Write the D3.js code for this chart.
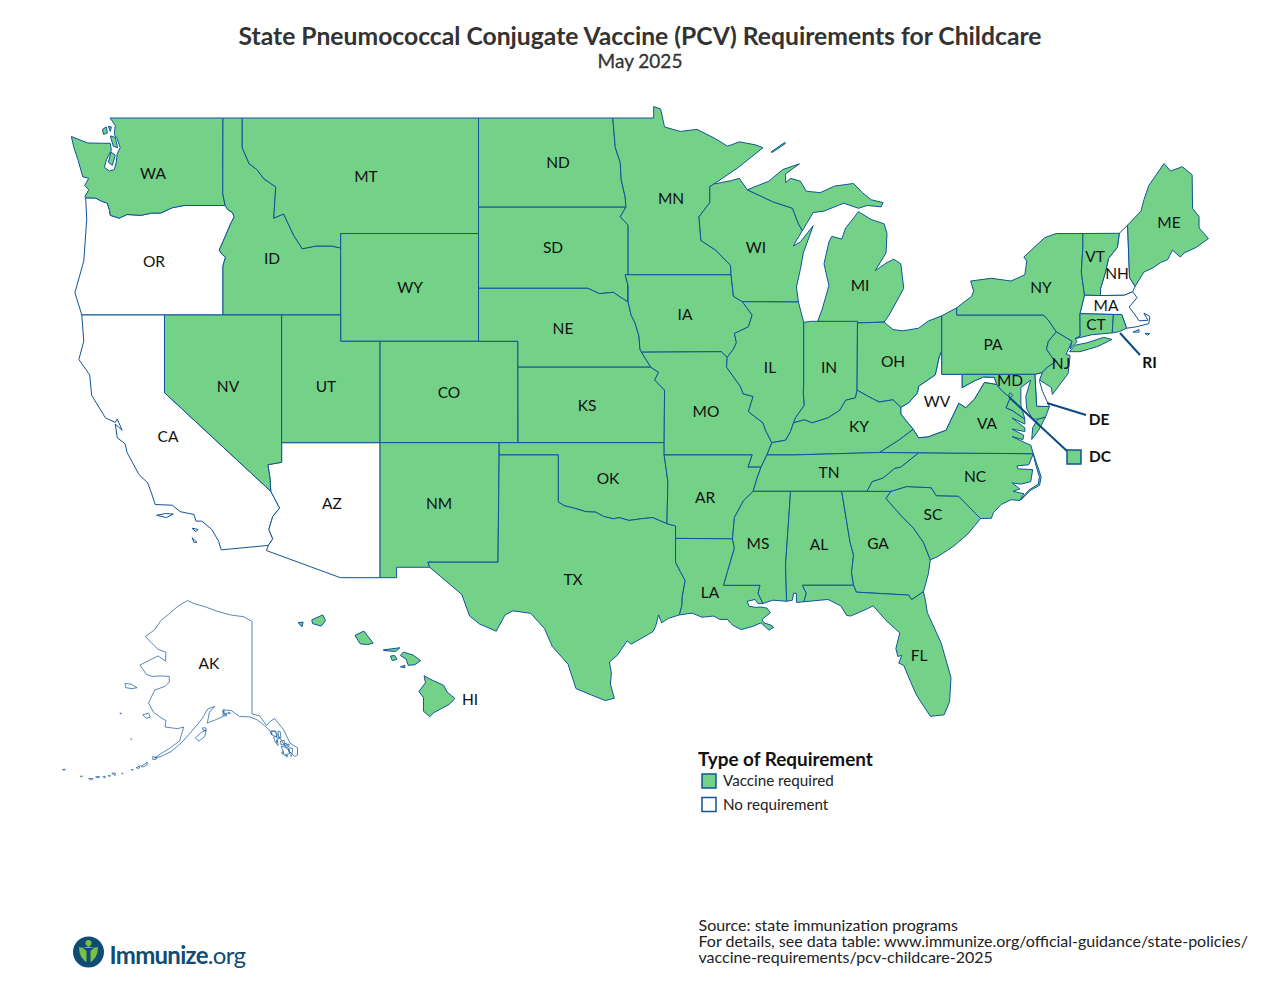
<!DOCTYPE html>
<html>
<head>
<meta charset="utf-8">
<script src="https://cdn.jsdelivr.net/npm/d3@7/dist/d3.min.js"></script>
<style>
  html, body { margin: 0; padding: 0; background: #fff; }
  svg { display: block; font-family: Lato, sans-serif; }
</style>
</head>
<body>
<svg id="chart" width="1280" height="989"></svg>
<script>
// requirement categories
const vaccineRequired = ['WA','ID','MT','WY','NV','UT','CO','NM','ND','SD','NE','KS','OK','TX','MN','IA','MO','AR','LA','WI','IL','MI','IN','OH','KY','TN','MS','AL','GA','FL','SC','NC','VA','PA','NY','VT','ME','CT','RI','NJ','MD','DC','HI']
const noRequirement = ['OR','CA','AZ','WV','NH','MA','DE','AK']
const legendLabels = ['Vaccine required', 'No requirement']

// shared borders, [lon, lat]
const columbia = [[-124,46.27],[-123.5,46.26],[-123.2,46.15],[-122.9,46.08],[-122.8,45.85],[-122.75,45.65],[-122.3,45.55],[-121.9,45.68],[-121.2,45.65],[-120.65,45.73],[-120.2,45.73],[-119.6,45.92],[-119,46],[-116.92,46]]
const snake = [[-116.92,46],[-116.78,45.85],[-116.55,45.75],[-116.46,45.6],[-116.67,45.3],[-116.85,45],[-117.22,44.4],[-117.05,44.23],[-116.9,44.15],[-117.03,43.83],[-117.03,42]]
const bitterroot = [[-116.05,48],[-115.7,47.45],[-115.3,47.25],[-114.95,46.93],[-114.35,46.65],[-114.45,45.55],[-113.95,45.7],[-113.45,44.95],[-113,44.45],[-112.3,44.55],[-111.5,44.55],[-111.05,44.48]]
const redNorth = [[-97.23,49],[-97.1,48],[-96.85,47.5],[-96.8,46.9],[-96.6,46.3],[-96.56,45.94]]
const siouxSD = [[-96.56,45.94],[-96.85,45.6],[-96.45,45.3],[-96.45,43.5]]
const siouxIA = [[-96.45,43.5],[-96.6,43.5],[-96.45,43.1],[-96.45,42.49]]
const missouriSD = [[-104.05,43],[-98.5,43],[-97.9,42.8],[-97.2,42.85],[-96.7,42.6],[-96.45,42.49]]
const missouriIA = [[-96.45,42.49],[-96.3,42],[-96.1,41.7],[-95.9,41.2],[-95.85,40.7],[-95.77,40.58]]
const missouriMO = [[-95.77,40.58],[-95.3,40],[-94.9,39.8],[-95.1,39.5],[-94.6,39.1]]
const stCroix = [[-92.1,46.75],[-92.3,46.66],[-92.3,46.1],[-92.85,45.6],[-92.75,44.75],[-92,44.4],[-91.25,43.85],[-91.22,43.5]]
const missIaWi = [[-91.22,43.5],[-91.1,42.7],[-90.65,42.5]]
const missIaIl = [[-90.65,42.5],[-90.15,42],[-90.34,41.55],[-91.05,41.3],[-90.95,40.95],[-91.1,40.7],[-91.42,40.38]]
const missMoIl = [[-91.42,40.38],[-91.45,40],[-90.75,39.25],[-90.6,38.95],[-90.1,38.85],[-90.34,38.25],[-89.6,37.8],[-89.47,37.5],[-89.15,37]]
const missMoTn = [[-89.15,37],[-89.4,36.5],[-89.7,36]]
const missArTn = [[-89.7,36],[-89.9,35.55],[-90.1,35]]
const missArMs = [[-90.1,35],[-90.6,34.6],[-91.05,33.9],[-91.15,33]]
const missLaMs = [[-91.15,33],[-91.05,32.6],[-91.4,31.6],[-91.6,31]]
const redSouth = [[-100,34.56],[-99.7,34.4],[-99.2,34.3],[-98.6,34.15],[-98.1,34.13],[-97.7,33.95],[-97.2,33.85],[-96.9,33.9],[-96.4,33.78],[-95.8,33.85],[-95.2,33.9],[-94.48,33.64]]
const sabine = [[-94.04,32],[-93.8,31.6],[-93.55,31.2],[-93.7,30.5],[-93.72,30.1],[-93.85,29.7]]
const colorado = [[-114.05,36.2],[-114.4,36.15],[-114.75,36.1],[-114.65,35.6],[-114.6,35]]
const coloradoSouth = [[-114.6,35],[-114.15,34.3],[-114.5,33.95],[-114.7,33.4],[-114.5,33],[-114.72,32.72]]
const wabash = [[-87.53,39.35],[-87.55,39],[-87.5,38.5],[-87.95,38],[-88.05,37.8]]
const ohioLow = [[-88.05,37.8],[-87.5,37.92],[-87.1,37.8],[-86.3,38],[-85.7,38.3],[-85.4,38.7],[-84.9,38.8],[-84.82,39.1]]
const ohioMid = [[-84.82,39.1],[-84.25,38.85],[-83.7,38.63],[-83,38.72],[-82.6,38.42]]
const ohioUp = [[-82.6,38.42],[-82.2,38.6],[-81.75,39],[-81.7,39.25],[-80.85,39.7],[-80.65,40.4],[-80.52,40.64]]
const kyVa = [[-81.97,37.54],[-82.7,37.1],[-83.68,36.6]]
const kyTn = [[-83.68,36.6],[-88.05,36.5],[-89.4,36.5]]
const tnNc = [[-81.68,36.59],[-82.6,36],[-82.9,35.95],[-83.5,35.55],[-84.05,35.4],[-84.32,35]]
const ncSc = [[-83.1,35],[-82.3,35.2],[-81.05,35.15],[-80.8,34.82],[-79.67,34.8],[-78.55,33.86]]
const savannah = [[-83.1,35],[-83.35,34.7],[-82.6,34],[-81.95,33.45],[-81.45,32.85],[-81.1,32.1]]
const gaAl = [[-85.6,35],[-85.18,32.87],[-85,32.3],[-85.1,31.55],[-85,31]]
const gaFl = [[-85,31],[-84.86,30.7],[-82.2,30.57],[-82.05,30.37],[-81.45,30.72]]
const vaWv = [[-77.72,39.32],[-78.35,39.4],[-78.85,38.75],[-79.3,38.4],[-79.65,38.58],[-80.3,37.5],[-81.22,37.23],[-81.7,37.2],[-81.97,37.54]]
const potomac = [[-76.3,37.95],[-76.95,38.3],[-77.25,38.4],[-77.04,38.8],[-77.5,39.1],[-77.72,39.32]]
const mdWv = [[-77.72,39.32],[-77.85,39.6],[-78.4,39.62],[-78.9,39.45],[-79.48,39.2],[-79.48,39.72]]
const delaware = [[-74.7,41.36],[-75.1,41],[-75.2,40.7],[-74.75,40.2],[-75.15,40],[-75.4,39.8]]
const vtNh = [[-71.5,45.01],[-71.6,44.5],[-72.05,44.1],[-72.2,43.6],[-72.45,43],[-72.46,42.73]]
const champlain = [[-73.35,45],[-73.35,44.5],[-73.43,43.6],[-73.27,42.75]]
const wiUp = [[-90.4,46.55],[-89.1,46.13],[-88.1,45.9],[-87.8,45.35],[-87.6,45.1]]
const rev = a => a.slice().reverse()

// state outlines, [lon, lat]
const WA = [[-124.73,48.38],[-123.9,48.16],[-123.1,48.15],[-122.75,48.15],[-122.7,47.9],[-122.95,47.6],[-123.05,47.33],[-122.8,47.2],[-122.55,47.25],[-122.45,47.5],[-122.4,47.8],[-122.25,48],[-122.4,48.3],[-122.55,48.45],[-122.5,48.75],[-122.76,49],[-117.03,49],[-117.04,46.42],[-116.92,46],...rev(columbia),[-124.05,46.3],[-123.85,46.55],[-124.05,46.7],[-123.85,46.95],[-124.15,47],[-124.4,47.6],[-124.6,48]]
const OR = [[-124.2,42],[-124.55,42.84],[-124.1,44],[-123.95,45.5],...columbia,...snake]
const CA = [[-124.2,42],[-120,42],[-120,39],[-114.6,35],...coloradoSouth,[-117.12,32.53],[-117.25,32.9],[-117.6,33.4],[-118.1,33.75],[-118.4,33.75],[-118.5,34.03],[-119.2,34.15],[-119.6,34.42],[-120.47,34.45],[-120.65,34.9],[-120.85,35.35],[-121.3,35.7],[-121.9,36.6],[-122,36.95],[-122.4,37.2],[-122.5,37.75],[-122.15,37.5],[-122.4,37.95],[-122.5,37.82],[-123,38],[-123.7,38.9],[-123.8,39.7],[-124.35,40.3],[-124.1,41]]
const ID = [[-117.03,49],[-116.05,49],...bitterroot,[-111.05,42],[-117.03,42],...rev(snake),[-117.04,46.42]]
const MT = [[-116.05,49],[-104.05,49],[-104.05,45],[-111.05,45],...rev(bitterroot)]
const WY = [[-111.05,45],[-104.05,45],[-104.05,41],[-111.05,41]]
const NV = [[-120,42],[-114.05,42],...colorado,[-120,39]]
const UT = [[-114.05,42],[-111.05,42],[-111.05,41],[-109.05,41],[-109.05,37],[-114.05,37]]
const CO = [[-109.05,41],[-102.05,41],[-102.05,37],[-109.05,37]]
const AZ = [[-114.05,37],[-109.05,37],[-109.05,31.33],[-111.07,31.33],[-114.82,32.5],...rev(coloradoSouth),...rev(colorado)]
const NM = [[-109.05,37],[-103,37],[-103.06,32],[-106.62,32],[-106.53,31.78],[-108.21,31.78],[-108.21,31.33],[-109.05,31.33]]
const ND = [[-104.05,49],...redNorth,[-104.05,45.94]]
const SD = [[-104.05,45.94],...siouxSD,...rev(siouxIA),...rev(missouriSD)]
const NE = [...missouriSD,...missouriIA,[-95.3,40],[-102.05,40],[-102.05,41],[-104.05,41]]
const KS = [[-102.05,40],[-95.3,40],[-94.9,39.8],[-95.1,39.5],[-94.6,39.1],[-94.62,37],[-102.04,37]]
const OK = [[-103,37],[-94.62,37],[-94.62,36.5],[-94.43,35.4],...rev(redSouth),[-100,36.5],[-103,36.5]]
const TX = [[-106.62,32],[-103.06,32],[-103,36.5],[-100,36.5],...redSouth,[-94.04,33.55],...sabine,[-94.4,29.55],[-94.75,29.35],[-94.9,29.7],[-95.05,29.2],[-95.2,28.95],[-96.3,28.4],[-96.5,28.55],[-97,27.9],[-97.4,27.6],[-97.3,27.1],[-97.35,26.6],[-97.15,25.96],[-97.6,25.85],[-98.3,26.1],[-99.1,26.4],[-99.5,27.5],[-100.3,28.3],[-100.7,29.1],[-101.4,29.77],[-102.3,29.88],[-102.7,29.7],[-103.15,28.98],[-104,29.3],[-104.5,29.65],[-104.9,30.6],[-106,31.4],[-106.53,31.78]]
const MN = [[-97.23,49],[-95.15,49],[-95.15,49.38],[-94.8,49.3],[-94.6,48.7],[-93.8,48.55],[-92.95,48.62],[-92,48.3],[-91.4,48.05],[-90.8,48.2],[-90,48.1],[-89.6,48],[-90.9,47.3],...stCroix,...rev(siouxSD),...rev(redNorth).slice(1)]
const IA = [[-96.45,43.5],[-91.22,43.5],...missIaWi,...missIaIl,[-91.72,40.6],...rev(missouriIA),...rev(siouxIA)]
const MO = [[-95.77,40.58],[-91.72,40.6],...missMoIl,...missMoTn,[-90.37,36],[-90.15,36.5],[-94.62,36.5],[-94.62,37],...rev(missouriMO)]
const AR = [[-94.62,36.5],[-90.15,36.5],[-90.37,36],...missArTn,...missArMs,[-94.04,33.02],[-94.04,33.55],[-94.48,33.64],[-94.43,35.4]]
const LA = [[-94.04,33.02],...missLaMs,[-89.75,31],[-89.85,30.65],[-89.6,30.2],[-89.85,30.2],[-90,30.38],[-90.4,30.3],[-90.3,30.08],[-89.95,30.03],[-89.75,30.05],[-89.4,30],[-89.22,29.8],[-89.65,29.5],[-89.55,29.35],[-89.2,29.25],[-89.05,29.15],[-89.3,29.03],[-89.7,29.35],[-90.1,29.2],[-90.7,29.05],[-91.15,29.25],[-91.4,29.5],[-91.8,29.5],[-92.1,29.65],[-92.7,29.6],[-93.2,29.78],...rev(sabine)]
const WI = [[-92.1,46.75],[-91.2,46.87],[-90.8,46.95],...wiUp,[-87.95,44.7],[-88.05,44.55],[-87.7,44.7],[-87.05,45.28],[-87.55,44.3],[-87.7,43.7],[-87.9,43.05],[-87.8,42.49],[-90.65,42.5],...rev(missIaWi),...rev(stCroix)]
const IL = [[-90.65,42.5],[-87.8,42.49],[-87.53,41.72],...wabash,[-88.2,37.45],[-88.45,37.1],[-89.15,37],...rev(missMoIl),...rev(missIaIl)]
const IN = [[-87.53,41.72],[-87.2,41.76],[-84.8,41.76],[-84.82,39.1],...rev(ohioLow),...rev(wabash)]
const OH = [[-84.8,41.7],[-83.45,41.73],[-83,41.45],[-82.5,41.4],[-81.7,41.5],[-81.2,41.77],[-80.52,41.97],[-80.52,40.64],...rev(ohioUp),...rev(ohioMid)]
const KY = [[-89.4,36.5],[-89.15,37],[-88.45,37.1],[-88.2,37.45],...ohioLow,...ohioMid,[-82.6,38.15],...kyVa,...kyTn]
const TN = [[-90.1,35],[-84.32,35],...rev(tnNc),[-83.68,36.6],...kyTn,[-89.7,36],[-89.9,35.55]]
const MS = [[-90.1,35],[-88.2,35],[-88.45,31.9],[-88.4,30.3],[-89.1,30.35],[-89.6,30.2],[-89.85,30.65],[-89.75,31],...rev(missLaMs),...rev(missArMs)]
const AL = [[-88.2,35],...gaAl,[-87.6,31],[-87.4,30.65],[-87.52,30.28],[-87.9,30.25],[-87.9,30.65],[-88.05,30.65],[-88.1,30.35],[-88.4,30.3],[-88.45,31.9]]
const GA = [[-85.6,35],[-83.1,35],...savannah,[-81.2,31.5],...rev(gaFl),...rev(gaAl)]
const FL = [[-87.6,31],...gaFl,[-81.35,30.35],[-81.25,29.8],[-80.55,28.45],[-80.05,26.9],[-80.12,25.8],[-80.4,25.2],[-81.1,25.13],[-81.8,26.1],[-82.1,26.7],[-82.45,27.45],[-82.7,27.55],[-82.55,27.9],[-82.75,27.85],[-82.85,28.2],[-82.65,28.9],[-83.4,29.5],[-84,30.1],[-84.35,29.95],[-85.15,29.65],[-85.35,29.68],[-85.65,30.1],[-86.3,30.38],[-87.52,30.28],[-87.4,30.65]]
const SC = [...ncSc,[-79.2,33.2],[-79.9,32.7],[-80.7,32.25],...rev(savannah)]
const NC = [[-84.32,35],...ncSc,[-78,33.87],[-77.9,34.1],[-77.5,34.45],[-77,34.65],[-76.55,34.62],[-76.35,34.9],[-76.9,35],[-76.55,35.1],[-76.95,35.35],[-76.5,35.3],[-76,35.4],[-75.9,35.9],[-76.65,35.93],[-76.7,36.05],[-76.1,36.1],[-75.87,36.55],...tnNc.slice(0,-1)]
const outerBanks = [[-76.5,34.65],[-76,35.05],[-75.55,35.25],[-75.47,35.6],[-75.72,36.2],[-75.87,36.55],[-75.78,36.2],[-75.56,35.6],[-75.62,35.3],[-76.1,35.05]]
const VA = [[-83.68,36.6],[-81.68,36.59],[-75.87,36.55],[-76,36.9],[-76.3,37],[-76.95,37.25],[-76.4,37.12],[-76.35,37.3],[-76.95,37.55],[-76.3,37.45],[-76.3,37.6],[-76.95,38],[-76.3,37.75],...potomac,...vaWv,...kyVa.slice(1)]
const VAshore = [[-75.95,37.13],[-75.9,37.6],[-75.65,37.95],[-75.25,38.03],[-75.6,37.5]]
const WV = [...ohioUp,[-80.52,39.72],...rev(mdWv),...vaWv,[-82.6,38.15]]
const MD = [[-79.48,39.72],[-75.79,39.72],[-75.7,38.46],[-75.05,38.45],[-75.25,38.03],[-75.65,37.95],[-75.9,37.95],[-76.2,38.35],[-76.25,38.85],[-76,39.5],[-76.5,39.2],[-76.5,38.5],[-76.35,38.1],...potomac,...mdWv.slice(1,-1)]
const DE = [[-75.79,39.72],[-75.4,39.8],[-75.55,39.45],[-75.4,39.05],[-75.05,38.45],[-75.7,38.46]]
const DC = [[-77.12,38.93],[-77.04,39],[-76.91,38.89],[-77.04,38.79]]
const NJ = [...delaware,[-75.55,39.5],[-74.95,39.2],[-74.9,38.93],[-74.1,39.75],[-74,40.45],[-74.2,40.5],[-73.9,41]]
const PA = [[-80.52,41.97],[-79.76,42.27],[-79.76,42],[-75.35,42],[-75.05,41.75],...delaware,[-75.79,39.72],[-80.52,39.72]]
const NY = [[-79.76,42.27],[-79,42.7],[-78.9,42.9],[-79.05,43.27],[-78,43.37],[-77,43.27],[-76.3,43.5],[-76.2,44],[-76.35,44.15],[-75.3,44.85],[-74.7,45],...champlain,[-73.5,42.05],[-73.49,41.2],[-73.73,41.1],[-73.65,40.98],[-73.9,40.8],[-74,40.7],[-73.9,41],[-74.7,41.36],[-75.05,41.75],[-75.35,42],[-79.76,42]]
const NYisland = [[-74.03,40.6],[-73.75,40.85],[-73.1,40.95],[-72.3,41.15],[-71.87,41.07],[-72.6,40.8],[-73.5,40.6]]
const VT = [...champlain,[-72.46,42.73],...rev(vtNh)]
const NH = [...vtNh,[-71.25,42.74],[-70.82,42.87],[-70.7,43.07],[-70.98,43.4],[-71.08,45.3]]
const ME = [[-71.08,45.3],[-70.4,45.8],[-70.25,46.2],[-70,46.7],[-69.23,47.46],[-68.9,47.2],[-68.3,47.35],[-67.8,47.07],[-67.78,45.9],[-67.45,45.6],[-67.45,45.2],[-66.97,44.82],[-67.6,44.5],[-67.9,44.4],[-68.2,44.3],[-68.4,44.15],[-68.8,44.4],[-69.05,44.05],[-69.4,43.95],[-69.8,43.75],[-70.25,43.6],[-70.7,43.07],[-70.98,43.4]]
const MA = [[-73.5,42.05],[-73.27,42.75],[-72.46,42.73],[-71.25,42.74],[-70.82,42.87],[-70.6,42.65],[-71,42.3],[-70.65,41.95],[-70.5,41.78],[-70.05,41.8],[-70.25,42.07],[-69.95,41.95],[-70,41.67],[-70.65,41.55],[-71.13,41.5],[-71.38,42.02],[-71.8,42.02]]
const MAislands = [[[-70.8,41.35],[-70.5,41.45],[-70.5,41.35]],[[-70.2,41.3],[-69.95,41.3],[-70.05,41.23]]]
const RI = [[-71.8,42.02],[-71.38,42.02],[-71.13,41.5],[-71.5,41.37],[-71.86,41.32]]
const CT = [[-73.5,42.05],[-71.8,42.02],[-71.86,41.32],[-72.9,41.25],[-73.73,41.1],[-73.49,41.2]]
const MIlower = [[-86.82,41.76],[-84.8,41.7],[-83.45,41.73],[-83.15,42.05],[-82.45,43],[-82.6,43.9],[-82.95,44.07],[-83.3,43.95],[-83.9,43.65],[-83.35,44.3],[-83.3,45],[-83.45,45.35],[-84.1,45.5],[-84.75,45.78],[-85,45.55],[-85.4,45.2],[-85.6,44.8],[-86.1,44.9],[-86.25,44.7],[-86.5,43.9],[-86.25,43.1],[-86.6,42.2]]
const MIupper = [...wiUp,[-87.05,45.75],[-86.5,45.8],[-85.5,46.08],[-84.75,45.9],[-84.3,46],[-83.6,45.95],[-83.5,46.1],[-84.1,46.2],[-84.55,46.45],[-85,46.77],[-85.95,46.68],[-86.7,46.45],[-87.4,46.5],[-87.7,46.85],[-88.2,46.95],[-88.45,46.8],[-88.45,47.1],[-87.75,47.45],[-88.6,47.25],[-89.3,46.85]]
const isleRoyale = [[-89.2,47.85],[-88.5,48.18],[-88.45,48.15],[-89.1,47.85]]
const AK = [[-156.6,71.35],[-155,71.1],[-152.3,70.85],[-149.5,70.5],[-146,70.18],[-143,70.05],[-141,69.65],[-141,60.3],[-139.2,60.1],[-137.5,58.9],[-136.5,59.45],[-135.5,59.75],[-135,59.4],[-133.4,58.4],[-131.8,56.6],[-130,56],[-130,55],[-130.6,54.8],[-131.5,55.2],[-133,56.2],[-134.5,57.5],[-135.5,58.2],[-136.6,58.2],[-138,58.9],[-139.8,59.6],[-141.5,59.95],[-144,60],[-146,60.7],[-148,60.8],[-148,60],[-149.8,59.6],[-151.8,59.2],[-151.3,60.5],[-150,61.2],[-151.7,60.9],[-153,59.8],[-154.2,59],[-156,57.9],[-158,56.7],[-160.5,55.5],[-163,54.8],[-164.5,54.6],[-163,55.2],[-161,55.9],[-158.5,56.9],[-157.5,58.7],[-159,58.5],[-162,58.7],[-161.8,59.5],[-163,59.85],[-164.8,60.5],[-166,61.6],[-165.2,62.4],[-164.5,63.05],[-162,63.45],[-161,63.9],[-161,64.5],[-163,64.55],[-165,64.5],[-166.5,64.7],[-168.1,65.65],[-165,66.3],[-163.7,66.55],[-161.9,66.05],[-161.8,66.9],[-163.8,67.2],[-166.8,68.35],[-164.5,68.95],[-163.1,69.7],[-161,70.3],[-158.9,70.9]]
const AKislands = [
  [[-154.7,57.3],[-153.3,58],[-152.2,58.3],[-152.4,57.5],[-153.8,56.9]],
  [[-153,58.6],[-152.2,58.6],[-152,58.25],[-152.8,58.3]],
  [[-167.4,60.2],[-166,60.4],[-165.6,59.9],[-166.6,59.8]],
  [[-171.7,63.75],[-170.3,63.7],[-168.8,63.3],[-170,63.2],[-171.5,63.3]],
  [[-172.8,60.45],[-172.6,60.35],[-172.9,60.3]],
  [[-170.3,57.2],[-170.1,57.2],[-170.2,57.1]],
  [[-165,54.8],[-164,54.65],[-164.2,54.4],[-165,54.4]],
  [[-167.8,53.4],[-166.3,54],[-166.4,53.6],[-167.4,53.3]],
  [[-169,53.2],[-168,53.5],[-168.3,53.1]],
  [[-170.2,52.95],[-169.7,52.95],[-169.9,52.8]],
  [[-172.5,52.4],[-172.2,52.4],[-172.3,52.25]],
  [[-174.9,52.4],[-174,52.4],[-174.1,52.05]],
  [[-175.8,52.05],[-175.2,52.05],[-175.4,51.9]],
  [[-177,51.9],[-176.5,51.95],[-176.6,51.65]],
  [[-178.8,51.85],[-177.9,51.95],[-178,51.7]],
  [[-180.5,51.6],[-179.4,51.6],[-179.8,51.4]],
  [[-182.5,51.95],[-182,52],[-182.2,51.85]],
  [[-186.8,52.95],[-186.1,53],[-186.4,52.8]],
  [[-148,60.45],[-147.2,60.35],[-147.4,60.25]],
  [[-147.9,60.1],[-147.1,60.35],[-147.2,60.05]],
  [[-146.9,60.45],[-146.2,60.45],[-146.5,60.3]],
  [[-148.1,60.65],[-147.7,60.7],[-147.8,60.5]],
  [[-136.6,58.1],[-135.3,58.2],[-135,57.5],[-136,57.6]],
  [[-135.8,57.4],[-135,57.5],[-134.7,56.3],[-135.4,56.8]],
  [[-134.7,58.2],[-134.2,58.15],[-134,57.3],[-134.6,57.2]],
  [[-134.1,56.9],[-133.2,57],[-133.2,56.4],[-134,56.4]],
  [[-133.9,56.2],[-132.3,56],[-131.9,55.2],[-133.2,55]],
  [[-132,56],[-131.2,55.9],[-131.3,55.2],[-132,55.4]],
  [[-133.3,56.5],[-132.6,56.6],[-132.8,56.2]],
  [[-132.6,56.4],[-132,56.5],[-132.2,56.1]],
  [[-135.2,56.9],[-134.9,57],[-135,56.7]],
  [[-136.5,57.9],[-136.2,58],[-136.2,57.7]],
  [[-133.9,55.3],[-133.4,55.5],[-133.5,55.1]],
  [[-132.9,54.95],[-132.4,54.95],[-132.6,54.7]],
  [[-131.7,55],[-131.4,55],[-131.5,54.8]]
]
const WAislands = [[[-123.15,48.62],[-122.95,48.7],[-122.9,48.5],[-123.1,48.45]],[[-122.85,48.72],[-122.7,48.7],[-122.75,48.55]],[[-122.75,48.4],[-122.5,48.35],[-122.38,48],[-122.6,48.05]],[[-122.72,47.85],[-122.5,47.75],[-122.65,47.4],[-122.85,47.5]]]
const CAislands = [[[-120.4,34],[-119.95,34.07],[-119.55,34.05],[-119.9,33.9]],[[-118.6,33.45],[-118.3,33.4],[-118.4,33.3]],[[-118.6,33.05],[-118.35,32.85],[-118.5,32.85]]]
const HIislands = [
  [[-155.88,20.26],[-155.6,20.12],[-155.2,19.95],[-155.08,19.73],[-154.81,19.52],[-155,19.33],[-155.55,19.05],[-155.68,18.92],[-155.9,19.1],[-155.9,19.55],[-156.06,19.75],[-155.83,20.03]],
  [[-156.7,20.92],[-156.6,21.03],[-156.25,20.93],[-156,20.75],[-156.2,20.62],[-156.43,20.6],[-156.5,20.8]],
  [[-157.3,21.1],[-156.72,21.17],[-156.87,21.05],[-157.27,21.08]],
  [[-157.05,20.9],[-156.9,20.92],[-156.82,20.8],[-156.98,20.75]],
  [[-156.7,20.55],[-156.55,20.6],[-156.55,20.52]],
  [[-158.28,21.57],[-157.97,21.71],[-157.65,21.32],[-157.85,21.27],[-158.1,21.3]],
  [[-159.78,22.07],[-159.4,22.23],[-159.3,22.05],[-159.45,21.87],[-159.75,21.95]],
  [[-160.25,21.98],[-160.08,22],[-160.12,21.85]]
]

// projections: the lower 48 and the two insets
function pinned(scale, rotateLon, anchor, px) {
  const p = d3.geoMercator().rotate([rotateLon, 0]).scale(scale).translate([0, 0])
  const a = p(anchor)
  return p.translate([px[0] - a[0], px[1] - a[1]])
}
const mainProj = pinned(1128, 0, [-104.05, 49], [478.5, 118])
const akProj = pinned(237, 154, [-141, 60.3], [252, 714])
const hiProj = pinned(1650, 0, [-155.5, 19.6], [435, 696])

const shapes = {
  WA:[WA,...WAislands], OR:[OR], CA:[CA,...CAislands], ID:[ID], MT:[MT], WY:[WY], NV:[NV], UT:[UT], CO:[CO], AZ:[AZ], NM:[NM],
  ND:[ND], SD:[SD], NE:[NE], KS:[KS], OK:[OK], TX:[TX], MN:[MN], IA:[IA], MO:[MO], AR:[AR], LA:[LA], WI:[WI], IL:[IL], IN:[IN],
  OH:[OH], KY:[KY], TN:[TN], MS:[MS], AL:[AL], GA:[GA], FL:[FL], SC:[SC], NC:[NC,outerBanks], VA:[VA,VAshore], WV:[WV], MD:[MD], DE:[DE],
  DC:[DC], NJ:[NJ], PA:[PA], NY:[NY,NYisland], VT:[VT], NH:[NH], ME:[ME], MA:[MA,...MAislands], RI:[RI], CT:[CT], MI:[MIlower,MIupper,isleRoyale],
  AK:[AK,...AKislands], HI:HIislands
}

const green = '#73d287', blue = '#0f5499', ink = '#111'
const svg = d3.select('#chart')

const ringPath = proj => d3.line().x(d => proj(d)[0]).y(d => proj(d)[1]).curve(d3.curveLinearClosed)

function drawStates(ids, fill) {
  ids.forEach(function(id) {
    const proj = id === 'AK' ? akProj : id === 'HI' ? hiProj : mainProj
    svg.append('path')
      .attr('class', 'state ' + id)
      .attr('d', shapes[id].map(ringPath(proj)).join(''))
      .attr('fill', fill)
      .attr('stroke', blue)
      .attr('stroke-width', id === 'AK' ? 0.7 : 1)
      .attr('stroke-linejoin', 'round')
  })
}
drawStates(noRequirement, '#fff')
drawStates(vaccineRequired, green)

// title
svg.append('text').attr('x', 640).attr('y', 45).attr('text-anchor', 'middle')
  .attr('font-size', 24.7).attr('font-weight', 700).attr('fill', '#333')
  .text('State Pneumococcal Conjugate Vaccine (PCV) Requirements for Childcare')
svg.append('text').attr('x', 640).attr('y', 68).attr('text-anchor', 'middle')
  .attr('font-size', 19).attr('fill', '#333').attr('stroke', '#333').attr('stroke-width', 0.3).text('May 2025')

// state labels
const stateLabels = [['WA',153,173],['OR',154,261],['CA',168,436],['NV',228,386],['ID',272,258],['MT',366,176],['WY',410,287],['UT',326,386],['AZ',332,503],['CO',449,392],['NM',439,503],['ND',558,162],['SD',553,247],['NE',563,328],['KS',587,405],['OK',608,478],['TX',573,579],['MN',671,198],['IA',685,314],['MO',706,411],['AR',705,497],['LA',710,592],['WI',756,247],['IL',770,367],['MI',860,285],['IN',829,367],['OH',893,361],['KY',859,426],['TN',829,472],['MS',758,543],['AL',819,544],['GA',878,543],['FL',919,655],['SC',933,514],['NC',975,476],['VA',987,423],['WV',937,401],['PA',993,344],['NY',1041,287],['VT',1095,256],['NH',1117,273],['ME',1169,222],['MA',1106,305],['CT',1096,324],['NJ',1061,363],['MD',1010,380],['AK',209,663],['HI',470,699]]
svg.selectAll('.lab').data(stateLabels).enter().append('text')
  .attr('class', 'lab')
  .attr('x', d => d[1]).attr('y', d => d[2] + 5.5)
  .attr('text-anchor', 'middle').attr('font-size', 15.5).attr('fill', ink)
  .text(d => d[0])

// leader lines for the small states
const leaders = [['RI',[1120,333],[1140,355],1149.5,362],['DE',[1047,403],[1086,415],1099,419],['DC',[1009,397],[1067,451],1100,456]]
leaders.forEach(function(d) {
  svg.append('line').attr('x1', d[1][0]).attr('y1', d[1][1]).attr('x2', d[2][0]).attr('y2', d[2][1])
    .attr('stroke', '#0b4a86').attr('stroke-width', 2)
  svg.append('text').attr('x', d[3]).attr('y', d[4] + 5.5).attr('text-anchor', 'middle')
    .attr('font-size', 15.5).attr('font-weight', 700).attr('fill', ink).text(d[0])
})
svg.append('rect').attr('x', 1067).attr('y', 450).attr('width', 14).attr('height', 14)
  .attr('fill', green).attr('stroke', blue).attr('stroke-width', 1.5)

// legend
svg.append('text').attr('x', 698).attr('y', 765.5).attr('font-size', 18.9).attr('font-weight', 700).attr('fill', ink).text('Type of Requirement')
legendLabels.forEach(function(label, i) {
  const y = 774 + i * 23.5
  svg.append('rect').attr('x', 702).attr('y', y).attr('width', 14).attr('height', 14)
    .attr('fill', i === 0 ? green : '#fff').attr('stroke', blue).attr('stroke-width', 1.5)
  svg.append('text').attr('x', 723).attr('y', y + 12).attr('font-size', 15.2).attr('fill', '#222').text(label)
})

// source
const sourceLines = ['Source: state immunization programs', 'For details, see data table: www.immunize.org/official-guidance/state-policies/', 'vaccine-requirements/pcv-childcare-2025']
sourceLines.forEach(function(t, i) {
  svg.append('text').attr('x', 698.5).attr('y', 931 + i * 16).attr('font-size', 16).attr('fill', '#222').text(t)
})

// logo
const logo = svg.append('g')
logo.append('circle').attr('cx', 88.5).attr('cy', 952).attr('r', 15.5).attr('fill', '#0f4c75')
logo.append('path').attr('d', 'M79,947 Q84,949 88.5,946 Q93,949 98,947 Q98,959 88.5,963 Q79,959 79,947 Z').attr('fill', '#7ac143')
logo.append('circle').attr('cx', 88.5).attr('cy', 943).attr('r', 3).attr('fill', '#7ac143')
logo.append('path').attr('d', 'M83,948 L94,948 L90.5,951 L90.5,963 L86.5,963 L86.5,951 Z').attr('fill', '#0f4c75')
logo.append('text').attr('x', 109.5).attr('y', 964).attr('font-size', 24).attr('fill', '#0f4c75').attr('font-weight', 700)
  .attr('letter-spacing', -0.7)
  .text('Immunize').append('tspan').attr('font-weight', 400).text('.org')
</script>
</body>
</html>
